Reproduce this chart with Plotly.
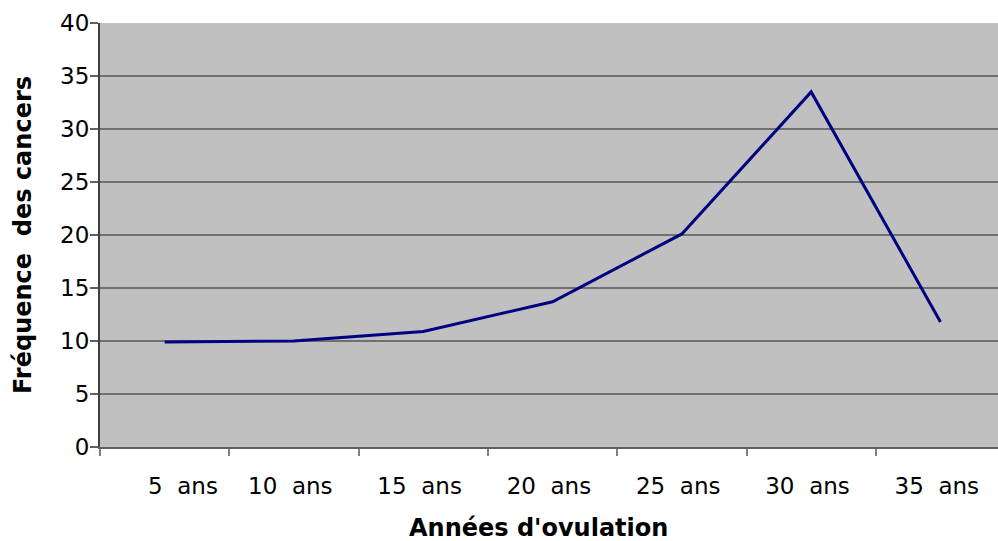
import plotly.graph_objects as go

categories = ["5 ans", "10 ans", "15 ans", "20 ans", "25 ans", "30 ans", "35 ans"]
frequence = [9.9, 10.0, 10.9, 13.7, 20.1, 33.5, 11.8]
y_ticks = [0, 5, 10, 15, 20, 25, 30, 35, 40]

# display labels: wide gap between number and "ans", as in the original
tick_text = [c.replace(" ", "\u00a0\u00a0") + "\u00a0" for c in categories]
tick_text[0] = "\u00a0" * 6 + tick_text[0]

fig = go.Figure()
fig.add_trace(go.Scatter(
    x=categories, y=frequence, mode="lines",
    line=dict(color="#000080", width=3),
    hoverinfo="x+y", showlegend=False,
))

font = "DejaVu Sans, Verdana, sans-serif"
fig.update_layout(
    width=998, height=541,
    margin=dict(l=100, r=0, t=22.5, b=94),
    paper_bgcolor="white", plot_bgcolor="#c0c0c0",
    font=dict(family=font, size=23, color="#000000"),
    xaxis=dict(
        type="category",
        range=[-0.5, 6.445],
        tickmode="array", tickvals=categories, ticktext=tick_text,
        tickangle=0,
        tickson="boundaries", ticks="outside", ticklen=7, tickwidth=2,
        tickcolor="#808080",
        showgrid=False, showline=True, linecolor="#606060", linewidth=2,
        ticklabelstandoff=17,
        automargin=False,
    ),
    yaxis=dict(
        range=[0, 40], tickvals=y_ticks,
        ticks="outside", ticklen=8, tickwidth=2, tickcolor="#606060",
        ticklabelstandoff=-4,
        showgrid=True, gridcolor="#707070", gridwidth=2,
        zeroline=False, showline=True, linecolor="#404040", linewidth=2,
        title=dict(text="<b>Fréquence  des cancers</b>", font=dict(size=24), standoff=22),
        automargin=False,
    ),
    annotations=[dict(
        text="<b>Années d'ovulation</b>", font=dict(size=24),
        xref="paper", yref="paper", x=0.4878, y=-0.191,
        xanchor="center", yanchor="middle", showarrow=False,
    )],
)

fig.write_html("out.html", config={"displayModeBar": False},
               post_script="document.body.style.margin='0';")
